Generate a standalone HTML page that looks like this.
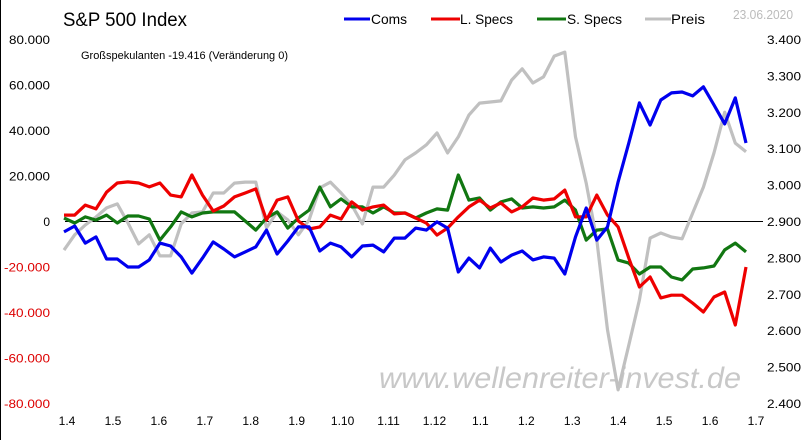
<!DOCTYPE html>
<html><head><meta charset="utf-8">
<style>
html,body{margin:0;padding:0;background:#fff;}
#wrap{position:relative;width:804px;height:440px;overflow:hidden;border-left:1px solid #000;box-sizing:border-box;}
svg text{font-family:"Liberation Sans",sans-serif;}
</style></head>
<body>
<div id="wrap">
<svg id="chart" width="804" height="440">
  <text x="62" y="26" font-size="19" fill="#000" textLength="124" lengthAdjust="spacingAndGlyphs">S&amp;P 500 Index</text>
  <text x="80" y="59" font-size="11" fill="#000" textLength="207" lengthAdjust="spacingAndGlyphs">Großspekulanten -19.416  (Veränderung 0)</text>
  <text x="732" y="19" font-size="13" fill="#bbb" textLength="60" lengthAdjust="spacingAndGlyphs">23.06.2020</text>
  <g>
    <g><line x1="343" y1="19" x2="369" y2="19" stroke="#0000ee" stroke-width="3"/><text x="370" y="24" font-size="14" textLength="36" lengthAdjust="spacingAndGlyphs">Coms</text></g>
    <g><line x1="430" y1="19" x2="459" y2="19" stroke="#ee0000" stroke-width="3"/><text x="459" y="24" font-size="14" textLength="53" lengthAdjust="spacingAndGlyphs">L. Specs</text></g>
    <g><line x1="536" y1="19" x2="565" y2="19" stroke="#117711" stroke-width="3"/><text x="566" y="24" font-size="14" textLength="55" lengthAdjust="spacingAndGlyphs">S. Specs</text></g>
    <g><line x1="644" y1="19" x2="670" y2="19" stroke="#c0c0c0" stroke-width="3"/><text x="670" y="24" font-size="14" textLength="34" lengthAdjust="spacingAndGlyphs">Preis</text></g>
  </g>
  <text x="378" y="388" font-size="30" font-style="italic" fill="#c8c8c8" textLength="362" lengthAdjust="spacingAndGlyphs">www.wellenreiter-invest.de</text>
  <g id="axes"></g>
  <g id="series"></g>
</svg>
</div>
<script>
const xLabels = ["1.4","1.5","1.6","1.7","1.8","1.9","1.10","1.11","1.12","1.1","1.2","1.3","1.4","1.5","1.6","1.7"];
const leftTicks = [80,60,40,20,0,-20,-40,-60,-80];
const rightTicks = [3.4,3.3,3.2,3.1,3.0,2.9,2.8,2.7,2.6,2.5,2.4];
const coms = [-4.8,-2.2,-9.7,-7.0,-16.7,-16.7,-20.2,-20.2,-17.1,-9.7,-11.0,-15.8,-22.9,-16.3,-9.2,-12.3,-15.8,-13.6,-11.4,-4.0,-14.5,-8.8,-2.6,-2.6,-13.2,-9.7,-11.4,-15.8,-11.0,-10.6,-13.6,-7.5,-7.5,-3.1,-4.0,-0.4,-3.1,-22.4,-16.3,-20.6,-11.9,-18.0,-15.0,-13.2,-17.1,-15.8,-16.3,-23.3,-7.0,5.7,-8.4,-2.6,17.2,34.3,51.9,42.2,53.2,56.3,56.7,55.0,59.0,51.0,42.7,54.1,34.3];
const lSpecs = [2.6,2.6,7.0,5.3,12.7,16.7,17.2,16.7,15.0,16.7,11.4,10.6,20.2,11.4,4.4,6.6,10.6,12.3,14.1,0.4,9.2,10.6,0,-3.5,-2.6,2.6,0.9,8.4,4.8,6.2,7.0,3.1,3.5,1.3,-0.9,-6.2,-3.1,1.8,6.2,9.2,5.7,7.9,4.0,6.2,10.1,9.2,9.7,13.6,1.8,1.8,11.4,2.6,-2.6,-16.3,-29.0,-24.6,-33.8,-32.6,-32.6,-36.1,-40.0,-33.4,-31.2,-45.7,-20.2];
const sSpecs = [1.3,-0.9,1.8,0.4,2.6,-0.9,2.2,2.2,0.9,-8.4,-2.6,4.0,1.8,3.5,4.0,4.0,4.0,0,-4.0,1.3,4.0,-3.1,1.3,4.8,14.9,6.2,9.7,6.2,6.2,3.5,6.2,3.5,3.5,1.3,3.5,5.3,4.8,20.2,9.2,10.1,4.8,8.4,9.7,5.7,6.2,5.7,6.2,9.2,4.8,-8.4,-4.0,-3.5,-17.2,-18.5,-23.3,-20.2,-20.2,-24.6,-25.9,-21.1,-20.6,-19.8,-12.7,-9.7,-13.6];
const preis = [2.820,2.862,2.889,2.911,2.936,2.947,2.895,2.837,2.862,2.804,2.804,2.892,2.922,2.925,2.977,2.977,3.004,3.007,3.007,2.881,2.925,2.903,2.862,2.903,2.991,3.007,2.977,2.944,2.892,2.993,2.993,3.026,3.068,3.087,3.109,3.142,3.087,3.131,3.191,3.224,3.227,3.230,3.287,3.318,3.279,3.296,3.353,3.364,3.131,3.004,2.848,2.601,2.436,2.559,2.683,2.853,2.867,2.856,2.851,2.922,2.993,3.087,3.199,3.114,3.090];

const NS = "http://www.w3.org/2000/svg";
const axes = document.getElementById('axes');
const ser = document.getElementById('series');
const yTop = 39, yBot = 403, xL = 63, xR = 745;
const yL = v => yTop + (80 - v) / 160 * (yBot - yTop);
const yR = v => yTop + (3.4 - v) / 1.0 * (yBot - yTop);
const xI = i => xL + i * (xR - xL) / (coms.length - 1);
const xLab = i => 66 + i * (755 - 66) / (xLabels.length - 1);
function fmt(v){ const s = Math.abs(v)===0?"0":Math.abs(v).toFixed(0)+".000"; return (v<0?"-":"")+s; }

leftTicks.forEach(v => {
  const t = document.createElementNS(NS,'text');
  
  
  t.setAttribute('x', 49); t.setAttribute('y', yL(v)+5);
  t.setAttribute('text-anchor','end'); t.setAttribute('font-size','12');
  t.setAttribute('fill', v<0 ? '#dd0000' : '#000');
  t.textContent = fmt(v);
  if (v !== 0) { t.setAttribute('textLength', v<0 ? 46 : 41); t.setAttribute('lengthAdjust','spacingAndGlyphs'); }
  axes.appendChild(t);
});
rightTicks.forEach(v => {
  const t = document.createElementNS(NS,'text');
  
  
  t.setAttribute('x', 766); t.setAttribute('y', yR(v)+5);
  t.setAttribute('font-size','12');
  t.setAttribute('textLength', 34); t.setAttribute('lengthAdjust','spacingAndGlyphs');
  t.textContent = v.toFixed(3);
  axes.appendChild(t);
});
xLabels.forEach((l,i) => {
  const t = document.createElementNS(NS,'text');
  
  
  t.setAttribute('x', xLab(i)); t.setAttribute('y', 425);
  t.setAttribute('text-anchor','middle'); t.setAttribute('font-size','12');
  t.textContent = l;
  axes.appendChild(t);
});
const zl = document.createElementNS(NS,'line');


zl.setAttribute('x1', 64); zl.setAttribute('x2', 762);
zl.setAttribute('y1', Math.round(yL(0))+0.5); zl.setAttribute('y2', Math.round(yL(0))+0.5);
zl.setAttribute('stroke', '#000'); zl.setAttribute('stroke-width', '1');
axes.appendChild(zl);

function drawLine(arr, yf, color, name){
  const p = document.createElementNS(NS,'polyline');
  
  
  p.setAttribute('points', arr.map((v,i) => xI(i).toFixed(1)+','+yf(v).toFixed(1)).join(' '));
  p.setAttribute('fill','none'); p.setAttribute('stroke', color);
  p.setAttribute('stroke-width','3.2'); p.setAttribute('stroke-linejoin','round');
  ser.appendChild(p);
}
drawLine(preis, yR, '#c0c0c0', 'preis-line');
drawLine(sSpecs, yL, '#117711', 's-specs-line');
drawLine(lSpecs, yL, '#ee0000', 'l-specs-line');
drawLine(coms, yL, '#0000ee', 'coms-line');
</script>
</body></html>
